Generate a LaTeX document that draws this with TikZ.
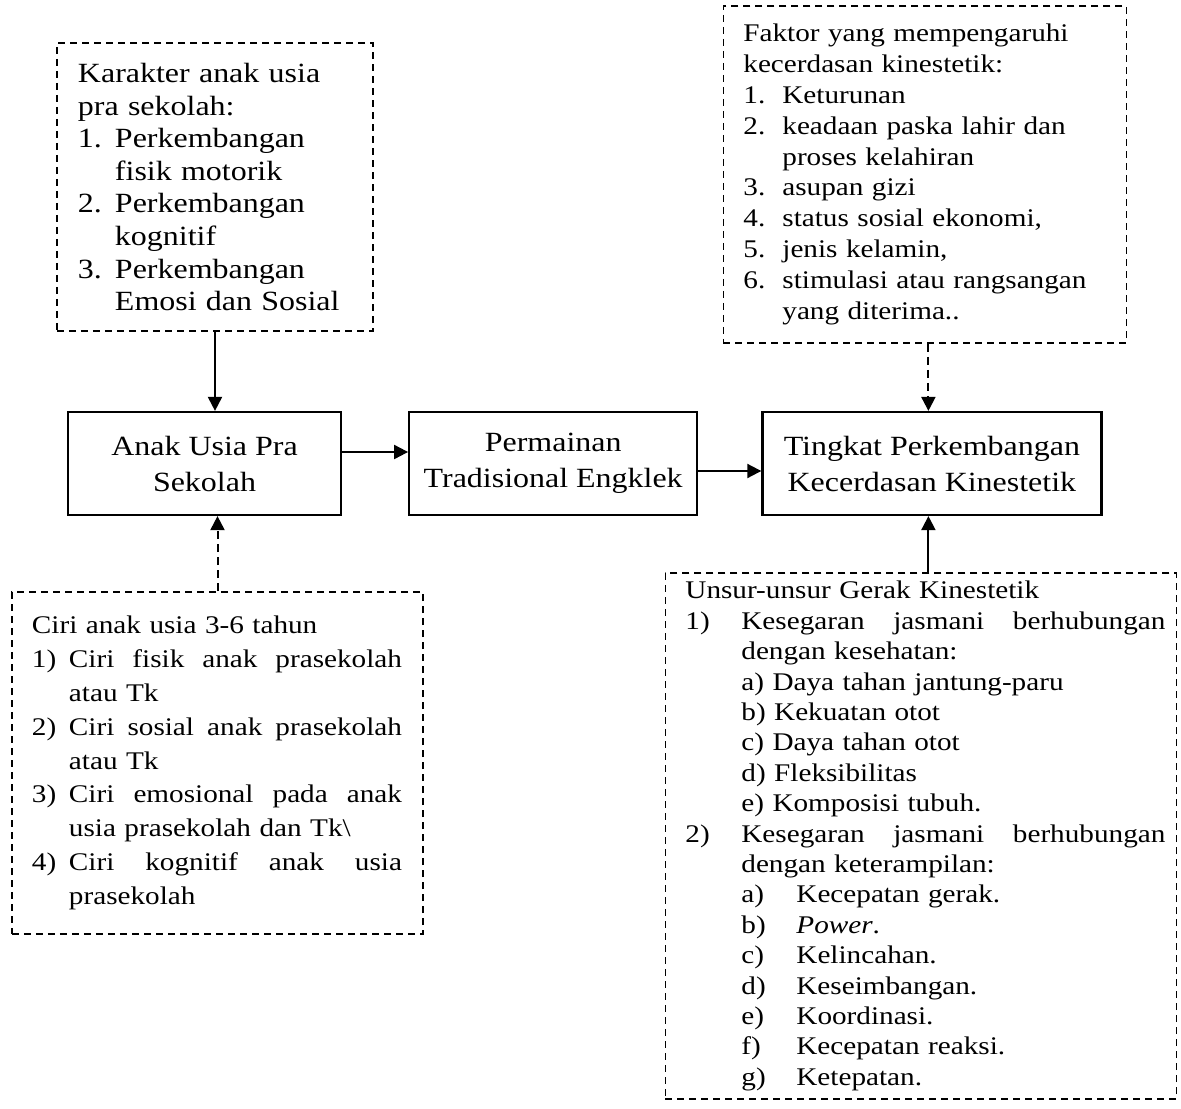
\documentclass[tikz,border=0pt]{standalone}
\usepackage{fontspec}
\setmainfont{Liberation Serif}[FakeStretch=1.15]
\usetikzlibrary{arrows.meta,positioning}
\newcommand{\lbl}[2][18.5pt]{\makebox[#1][l]{#2}}
\newcommand{\jst}[2]{\hbox to #1{\spaceskip=.25em plus 1fil\relax #2}}

\begin{document}
\begin{tikzpicture}[>={Triangle[length=7pt,width=7pt]},thick]
      \tikzstyle{box}=[rectangle,draw,line width=1.1pt,minimum height=51.5pt,inner xsep=2pt,align=center,font=\fontsize{13.9}{18}\selectfont]
      \tikzstyle{note}=[rectangle,draw,line width=0.9pt,dash pattern=on 3.5pt off 2.5pt,align=left,inner xsep=10pt,inner ysep=0pt]
      \tikzstyle{arr}=[->,line width=1pt]
      \tikzstyle{dasharr}=[->,line width=1pt,dash pattern=on 4pt off 2.5pt]
      \useasboundingbox (-102.25pt,-322.25pt) rectangle (488.25pt,231.75pt);
      \node[box,minimum width=136.5pt](anak){Anak Usia Pra\\Sekolah};
      \node[box,minimum width=144pt,right=33pt of anak](main){Permainan\\Tradisional Engklek};
      \node[box,minimum width=169.5pt,right=31.5pt of main](tingkat){Tingkat Perkembangan\\Kecerdasan Kinestetik};
      \node[note,inner xsep=10.5pt,text width=137pt,minimum height=144pt,above=39.5pt of anak,xshift=5.25pt,
            font=\fontsize{13.9}{16.3}\selectfont](karakter){Karakter anak usia\\ pra sekolah:\\
            \lbl{1.}Perkembangan\\ \hspace*{18.5pt}fisik motorik\\
            \lbl{2.}Perkembangan\\ \hspace*{18.5pt}kognitif\\
            \lbl{3.}Perkembangan\\ \hspace*{18.5pt}Emosi dan Sosial};
      \node[note,text width=185.5pt,minimum height=171pt,below=37.5pt of anak,xshift=6.5pt,
            font=\fontsize{12.7}{16.9}\selectfont](ciri){Ciri anak usia 3-6 tahun\\
            \lbl{1)}\jst{166.5pt}{Ciri fisik anak prasekolah}\\ \hspace*{18.5pt}atau Tk\\
            \lbl{2)}\jst{166.5pt}{Ciri sosial anak prasekolah}\\ \hspace*{18.5pt}atau Tk\\
            \lbl{3)}\jst{166.5pt}{Ciri emosional pada anak}\\ \hspace*{18.5pt}usia prasekolah dan Tk\textbackslash\\
            \lbl{4)}\jst{166.5pt}{Ciri kognitif anak usia}\\ \hspace*{18.5pt}prasekolah};
      \node[note,text width=181.5pt,minimum height=168.5pt,above=33.5pt of tingkat,xshift=-3.5pt,
            font=\fontsize{12.7}{15.4}\selectfont](faktor){Faktor yang mempengaruhi\\ kecerdasan kinestetik:\\
            \lbl[19.5pt]{1.}Keturunan\\
            \lbl[19.5pt]{2.}keadaan paska lahir dan\\ \hspace*{19.5pt}proses kelahiran\\
            \lbl[19.5pt]{3.}asupan gizi\\
            \lbl[19.5pt]{4.}status sosial ekonomi,\\
            \lbl[19.5pt]{5.}jenis kelamin,\\
            \lbl[19.5pt]{6.}stimulasi atau rangsangan\\ \hspace*{19.5pt}yang diterima..};
      \node[note,text width=235.5pt,minimum height=263pt,below=28pt of tingkat,xshift=-5.5pt,
            font=\fontsize{12.7}{15.2}\selectfont](unsur){Unsur-unsur Gerak Kinestetik\\
            \lbl[28pt]{1)}\jst{212pt}{Kesegaran jasmani berhubungan}\\ \hspace*{28pt}dengan kesehatan:\\
            \hspace*{28pt}a) Daya tahan jantung-paru\\
            \hspace*{28pt}b) Kekuatan otot\\
            \hspace*{28pt}c) Daya tahan otot\\
            \hspace*{28pt}d) Fleksibilitas\\
            \hspace*{28pt}e) Komposisi tubuh.\\
            \lbl[28pt]{2)}\jst{212pt}{Kesegaran jasmani berhubungan}\\ \hspace*{28pt}dengan keterampilan:\\
            \hspace*{28pt}\lbl[27.5pt]{a)}Kecepatan gerak.\\
            \hspace*{28pt}\lbl[27.5pt]{b)}\textit{Power}.\\
            \hspace*{28pt}\lbl[27.5pt]{c)}Kelincahan.\\
            \hspace*{28pt}\lbl[27.5pt]{d)}Keseimbangan.\\
            \hspace*{28pt}\lbl[27.5pt]{e)}Koordinasi.\\
            \hspace*{28pt}\lbl[27.5pt]{f)}Kecepatan reaksi.\\
            \hspace*{28pt}\lbl[27.5pt]{g)}Ketepatan.};
      \draw[arr](karakter.south)--(karakter.south |- anak.north);
      \draw[dasharr](ciri.north)--(ciri.north |- anak.south);
      \draw[arr]([yshift=5.75pt]anak.east)--([yshift=5.75pt]main.west);
      \draw[arr]([yshift=-3.75pt]main.east)--([yshift=-3.75pt]tingkat.west);
      \draw[dasharr]([xshift=-1.75pt]faktor.south -| tingkat.north)--([xshift=-1.75pt]tingkat.north);
      \draw[arr]([xshift=-1.75pt]unsur.north -| tingkat.south)--([xshift=-1.75pt]tingkat.south);
\end{tikzpicture}
\end{document}
